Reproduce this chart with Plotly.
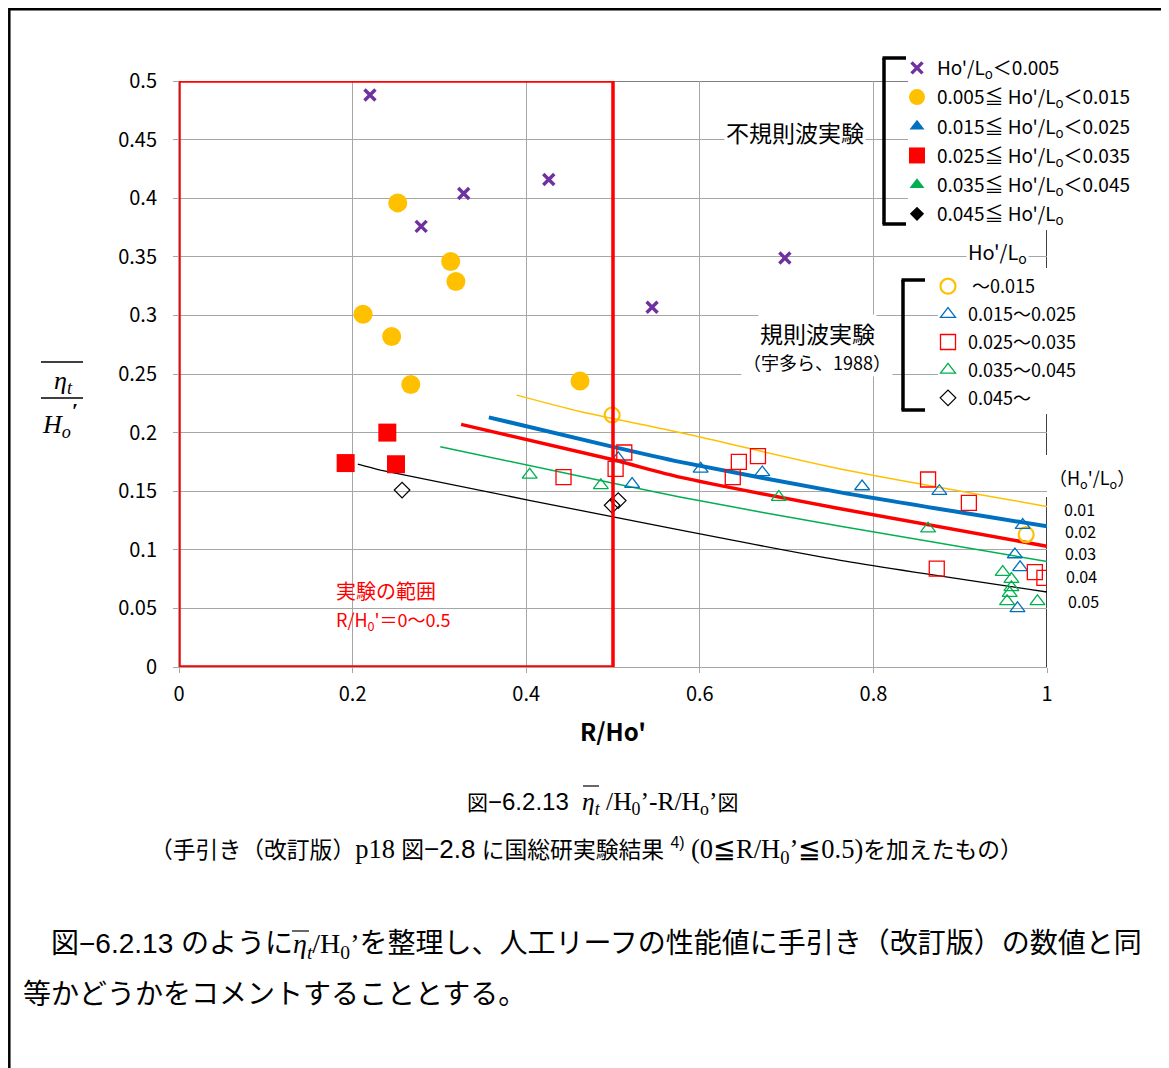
import plotly.graph_objects as go

# ---------------- data ----------------
# irregular wave experiments (filled markers)
irr_p_x = [0.220, 0.328, 0.279, 0.426, 0.545, 0.698]
irr_p_y = [0.488, 0.404, 0.376, 0.416, 0.307, 0.349]
irr_y_x = [0.252, 0.313, 0.319, 0.212, 0.245, 0.267, 0.462]
irr_y_y = [0.396, 0.346, 0.329, 0.301, 0.282, 0.241, 0.244]
irr_r_x = [0.192, 0.240, 0.250]
irr_r_y = [0.174, 0.200, 0.173]
irr_empty = [None]

# regular wave experiments (open markers)
reg_o_x = [0.499, 0.976]
reg_o_y = [0.215, 0.113]
reg_b_x = [0.506, 0.522, 0.601, 0.672, 0.787, 0.876, 0.972, 0.963, 0.969, 0.966]
reg_b_y = [0.178, 0.156, 0.169, 0.166, 0.154, 0.150, 0.121, 0.096, 0.085, 0.050]
reg_r_x = [0.513, 0.503, 0.443, 0.638, 0.645, 0.667, 0.863, 0.910, 0.873, 0.986, 0.997]
reg_r_y = [0.183, 0.169, 0.162, 0.162, 0.175, 0.180, 0.160, 0.140, 0.084, 0.081, 0.076]
reg_g_x = [0.404, 0.486, 0.691, 0.863, 0.949, 0.959, 0.959, 0.957, 0.954, 0.989]
reg_g_y = [0.164, 0.155, 0.145, 0.118, 0.081, 0.075, 0.068, 0.063, 0.056, 0.056]
reg_k_x = [0.257, 0.499, 0.506]
reg_k_y = [0.151, 0.138, 0.142]

# design curves (Ho'/Lo = 0.01 ... 0.05)
c01_x = [0.389, 0.462, 0.577, 0.762, 1.0]
c01_y = [0.232, 0.218, 0.200, 0.169, 0.137]
c02_x = [0.357, 0.499, 0.577, 0.762, 1.0]
c02_y = [0.213, 0.188, 0.175, 0.149, 0.120]
c03_x = [0.325, 0.499, 0.577, 0.762, 1.0]
c03_y = [0.207, 0.177, 0.162, 0.135, 0.103]
c04_x = [0.301, 0.499, 0.577, 0.762, 1.0]
c04_y = [0.188, 0.157, 0.145, 0.120, 0.090]
c05_x = [0.206, 0.232, 0.569, 0.762, 1.0]
c05_y = [0.173, 0.168, 0.118, 0.091, 0.064]
curve_labels = ["0.01", "0.02", "0.03", "0.04", "0.05"]

x_ticks = [0, 0.2, 0.4, 0.6, 0.8, 1.0]
x_ticktext = ["0", "0.2", "0.4", "0.6", "0.8", "1"]
y_ticks = [0, 0.05, 0.1, 0.15, 0.2, 0.25, 0.3, 0.35, 0.4, 0.45, 0.5]
y_ticktext = ["0", "0.05", "0.1", "0.15", "0.2", "0.25", "0.3", "0.35", "0.4", "0.45", "0.5"]

irr_names = ["Ho'/L<sub>o</sub>＜0.005",
             "0.005≦ Ho'/L<sub>o</sub>＜0.015",
             "0.015≦ Ho'/L<sub>o</sub>＜0.025",
             "0.025≦ Ho'/L<sub>o</sub>＜0.035",
             "0.035≦ Ho'/L<sub>o</sub>＜0.045",
             "0.045≦ Ho'/L<sub>o</sub>"]
reg_names = [" ～0.015", "0.015～0.025", "0.025～0.035", "0.035～0.045", "0.045～"]

# ---------------- styling ----------------
FONT = "Noto Sans CJK JP, Noto Sans, sans-serif"
DOCFONT = "Liberation Sans, Noto Sans CJK JP, sans-serif"
BODYFONT = "Liberation Sans Narrow, Liberation Sans, Noto Sans CJK JP, sans-serif"
SERIF = "Liberation Serif, DejaVu Serif, serif"
PURPLE, YELLOW, BLUE, RED, GREEN = "#7030A0", "#FFC000", "#0070C0", "#FF0000", "#00B050"

W, H = 1169, 1068
OFF = 8  # page body offset of the rendered figure
L, R, T, B = 179, 1047, 81, 667   # plot area in reference pixels


def px(x):
    return (x - L) / (R - L)


def py(y):
    return (B - y) / (B - T)


fig = go.Figure()

# curves
for cx, cy, col, w in [(c01_x, c01_y, YELLOW, 1.5), (c02_x, c02_y, BLUE, 4),
                       (c03_x, c03_y, RED, 3.5), (c04_x, c04_y, GREEN, 1.5),
                       (c05_x, c05_y, "black", 1.3)]:
    fig.add_trace(go.Scatter(x=cx, y=cy, mode="lines", line=dict(color=col, width=w, shape="spline", smoothing=0.6),
                             showlegend=False, hoverinfo="skip"))

# regular-wave (open) markers
reg_sets = [
    (reg_o_x, reg_o_y, "circle-open", YELLOW, 15, 2.2),
    (reg_b_x, reg_b_y, "triangle-up-open", BLUE, 13, 1.3),
    (reg_r_x, reg_r_y, "square-open", RED, 15, 1.3),
    (reg_g_x, reg_g_y, "triangle-up-open", GREEN, 13, 1.3),
    (reg_k_x, reg_k_y, "diamond-open", "black", 12, 1.2),
]
for i, (xs, ys, sym, col, sz, lw) in enumerate(reg_sets):
    fig.add_trace(go.Scatter(x=xs, y=ys, mode="markers", name=reg_names[i], legend="legend2",
                             legendgroup="r%d" % i,
                             marker=dict(symbol=sym, color=col, size=sz, line=dict(color=col, width=lw))))

# irregular-wave (filled) markers
irr_sets = [
    (irr_p_x, irr_p_y, "x-thin", PURPLE, 11),
    (irr_y_x, irr_y_y, "circle", YELLOW, 19),
    (irr_empty, irr_empty, "triangle-up", BLUE, 13),
    (irr_r_x, irr_r_y, "square", RED, 18),
    (irr_empty, irr_empty, "triangle-up", GREEN, 13),
    (irr_empty, irr_empty, "diamond", "black", 11),
]
for i, (xs, ys, sym, col, sz) in enumerate(irr_sets):
    mk = dict(symbol=sym, color=col, size=sz)
    if sym == "x-thin":
        mk["line"] = dict(color=col, width=3.4)
    fig.add_trace(go.Scatter(x=xs, y=ys, mode="markers", name=irr_names[i], legend="legend",
                             legendgroup="i%d" % i, marker=mk))

shapes = []
# top line of plot (black) and right border
shapes.append(dict(type="line", xref="x", yref="y", x0=0, x1=1, y0=0.5, y1=0.5,
                   line=dict(color="black", width=1.2), layer="below"))
shapes.append(dict(type="line", xref="x", yref="y", x0=1, x1=1, y0=0, y1=(B - 497) / 1172,
                   line=dict(color="black", width=1.5), layer="below"))
shapes.append(dict(type="line", xref="x", yref="y", x0=1, x1=1, y0=(B - 455) / 1172, y1=0.5,
                   line=dict(color="black", width=1.5), layer="below"))
# white panels behind the legends
shapes.append(dict(type="rect", xref="paper", yref="paper", x0=px(908), x1=px(1142), y0=py(230), y1=py(52),
                   fillcolor="white", line=dict(width=0), layer="above"))
shapes.append(dict(type="rect", xref="paper", yref="paper", x0=px(938), x1=px(1100), y0=py(414), y1=py(268),
                   fillcolor="white", line=dict(width=0), layer="above"))
# experiment range rectangle
shapes.append(dict(type="rect", xref="x", yref="y", x0=0, x1=0.5, y0=0, y1=0.5,
                   line=dict(color=RED, width=3.5), layer="above"))
# brackets
for xb, yt, yb, xe in [(884, 58, 224, 906), (903, 280, 410, 925)]:
    shapes.append(dict(type="line", xref="paper", yref="paper", x0=px(xb), x1=px(xb), y0=py(yt), y1=py(yb),
                       line=dict(color="black", width=3.5), layer="above"))
    for yy in (yt, yb):
        shapes.append(dict(type="line", xref="paper", yref="paper", x0=px(xb - 1.5), x1=px(xe), y0=py(yy), y1=py(yy),
                           line=dict(color="black", width=3.5), layer="above"))
# y-axis title fraction: overline and fraction bar
shapes.append(dict(type="line", xref="paper", yref="paper", x0=px(41), x1=px(83), y0=py(362), y1=py(362),
                   line=dict(color="black", width=1.3)))
shapes.append(dict(type="line", xref="paper", yref="paper", x0=px(41), x1=px(83), y0=py(398), y1=py(398),
                   line=dict(color="black", width=1.3)))
# overlines in caption & body text
shapes.append(dict(type="line", xref="paper", yref="paper", x0=px(583), x1=px(599), y0=py(786), y1=py(786),
                   line=dict(color="black", width=1.2)))
shapes.append(dict(type="line", xref="paper", yref="paper", x0=px(292), x1=px(309), y0=py(931), y1=py(931),
                   line=dict(color="black", width=1.2)))
# outer frame
shapes.append(dict(type="rect", xref="paper", yref="paper", x0=px(9.3), x1=px(1166), y0=py(1090), y1=py(9.3),
                   line=dict(color="black", width=2.5), layer="above"))

ann = []


def A(text, x, y, size, xanchor="center", color="black", family=FONT, bg=None, **kw):
    d = dict(text=text, x=px(x), y=py(y), xref="paper", yref="paper", showarrow=False,
             xanchor=xanchor, yanchor="middle", font=dict(size=size, color=color, family=family))
    if bg:
        d["bgcolor"] = bg
    d.update(kw)
    ann.append(d)


A("不規則波実験", 795, 132, 23, bg="white")
A("規則波実験", 817, 333, 23, bg="white")
A("（宇多ら、1988）", 817, 362, 18, bg="white")
A("Ho'/L<sub>o</sub>", 997, 252, 20, bg="white")
A("実験の範囲", 334, 590, 20, xanchor="left", color=RED)
A("R/H<sub>0</sub>'＝0～0.5", 334, 620, 18, xanchor="left", color=RED)
A("（H<sub>o</sub>'/L<sub>o</sub>）", 1092, 478, 18)
for lab, (lx, ly) in zip(curve_labels, [(1062, 509), (1063, 531), (1063, 553), (1064, 576), (1066, 601)]):
    A(lab, lx, ly, 16, xanchor="left")
# y-axis title pieces
A("<i>η<sub>t</sub></i>", 63, 382, 26, family=SERIF)
A("<i>H<sub>o</sub></i>", 56, 426, 26, family=SERIF)
A("<b>′</b>", 75, 410, 22, family=SERIF)
# captions
AR = "<span style='font-family:Liberation Sans, sans-serif; font-size:24px'>"
TM = "<span style='font-family:Liberation Serif, serif; font-size:25.5px'>"
A("図" + AR + "−6.2.13  </span>" + TM + "<i>η<sub>t</sub></i> /H<sub>0</sub>’-R/H<sub>o</sub>’</span>図",
  602, 803, 21, family=DOCFONT)
AR2 = "<span style='font-family:Liberation Sans, sans-serif; font-size:26px'>"
TM2 = "<span style='font-family:Liberation Serif, serif; font-size:26.5px'>"
A("（手引き（改訂版）" + TM2 + "p18</span> 図" + AR2 + "−2.8</span> に国総研実験結果 <sup>4)</sup> " + TM2 +
  "(0≦R/H<sub>0</sub>’≦0.5)</span>を加えたもの）", 586, 851, 22.8, family=DOCFONT)
TM3 = "<span style='font-family:Liberation Serif, serif'>"
A("　図−6.2.13 のように" + TM3 + "<i>η<sub>t</sub></i>/H<sub>0</sub>’</span>を整理し、人工リーフの性能値に手引き（改訂版）の数値と同",
  21, 945, 28, xanchor="left", family=BODYFONT)
A("等かどうかをコメントすることとする。", 21, 995, 28, xanchor="left", family=BODYFONT)

fig.update_layout(
    width=W, height=H,
    margin=dict(l=L - OFF, r=W - (R - OFF), t=T - OFF, b=H - (B - OFF), autoexpand=False),
    paper_bgcolor="white", plot_bgcolor="white",
    font=dict(family=FONT, size=19, color="black"),
    shapes=shapes, annotations=ann,
    legend=dict(x=px(897), y=py(49), xanchor="left", yanchor="top", bgcolor="rgba(0,0,0,0)",
                font=dict(size=19, family=FONT), tracegroupgap=1.5, itemwidth=30, traceorder="grouped"),
    legend2=dict(x=px(928), y=py(268), xanchor="left", yanchor="top", bgcolor="rgba(0,0,0,0)",
                 font=dict(size=18, family=FONT), tracegroupgap=1.5, itemwidth=30, traceorder="grouped"),
    xaxis=dict(range=[0, 1], tickvals=x_ticks, ticktext=x_ticktext, showgrid=True, gridcolor="#A6A6A6",
               gridwidth=1, zeroline=False, showline=True, linecolor="#A6A6A6", ticks="outside",
               tickcolor="#A6A6A6", ticklen=5, tickfont=dict(size=20), ticklabelstandoff=4,
               title=dict(text="<b>R/Ho'</b>", font=dict(size=24), standoff=18)),
    yaxis=dict(range=[0, 0.5], tickvals=y_ticks, ticktext=y_ticktext, showgrid=True, gridcolor="#A6A6A6",
               gridwidth=1, zeroline=False, showline=True, linecolor="#A6A6A6", ticks="outside",
               tickcolor="#A6A6A6", ticklen=5, tickfont=dict(size=20), ticklabelstandoff=12),
)

fig.write_html("out.html")
